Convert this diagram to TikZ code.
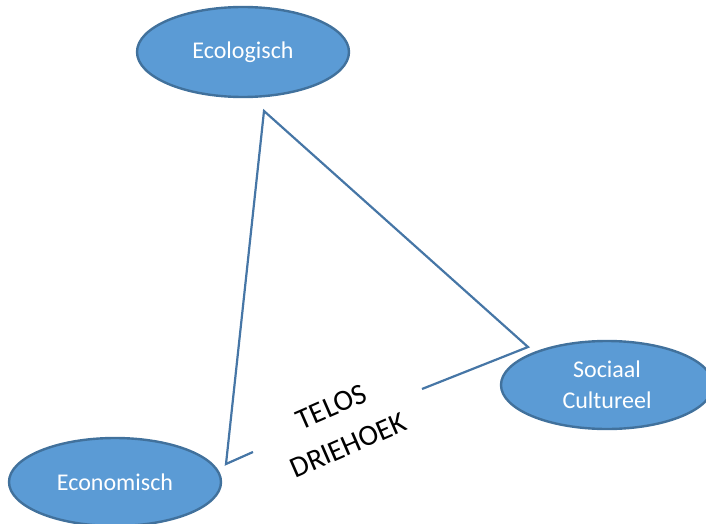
\documentclass[tikz,border=0pt]{standalone}
\usepackage{fontspec}
\setmainfont{Carlito}
\usetikzlibrary{shapes.geometric}
\definecolor{pillfill}{HTML}{5B9BD5}
\definecolor{pilledge}{HTML}{41719C}
\definecolor{triline}{HTML}{4676A6}
\tikzset{every picture/.style={line width=1pt}}
\tikzset{
  pillar/.style={ellipse, fill=pillfill, draw=pilledge, line width=2.4pt,
                 minimum width=212pt, minimum height=90pt, inner sep=0pt,
                 text=white, align=center,
                 font=\fontsize{24}{31.5}\selectfont},
  side/.style={draw=triline, line width=2.2pt, line join=miter},
}

\begin{document}
\begin{tikzpicture}[x=1pt,y=-1pt]
  \useasboundingbox (0,0) rectangle (706,524);
  % the three pillars
  \node[pillar] (eco)  at (243,52)  {Ecologisch};
  \node[pillar, minimum height=88pt] (soc) at (607,385) {Sociaal\\Cultureel};
  \node[pillar, minimum height=88pt] (econ) at (115,482) {Economisch};
  % corners of the triangle, open at the bottom
  \coordinate (top)   at (264,111);
  \coordinate (right) at (528,347);
  \coordinate (left)  at (226,464);
  \coordinate (gapR)  at (422,389);
  \coordinate (gapL)  at (253,452);
  \draw[side] (gapR) -- (right) -- (top) -- (left) -- (gapL);
  % title in the gap
  \node[rotate=23.5, align=center, font=\fontsize{29.5}{42}\selectfont]
    (title) at (340,426) {TELOS\\DRIEHOEK};
\end{tikzpicture}
\end{document}
